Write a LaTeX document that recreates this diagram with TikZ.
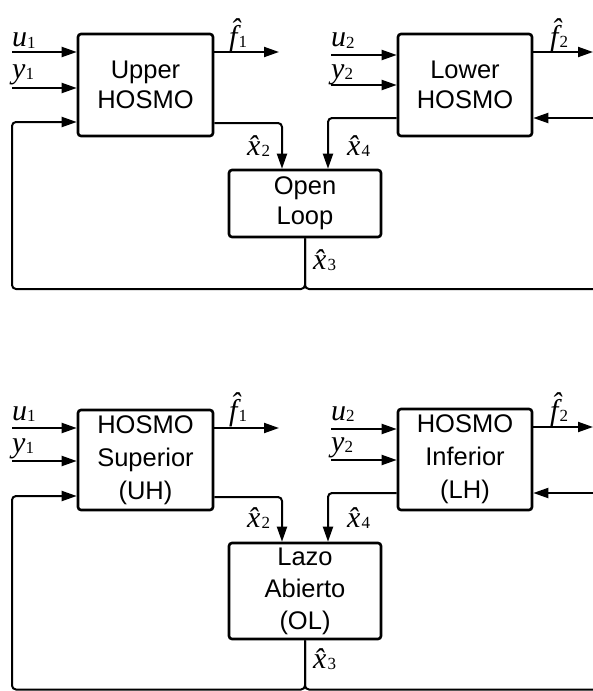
\documentclass[tikz,border=0pt]{standalone}
\usepackage{fontspec}
\newfontfamily\arial{Liberation Sans}
\newfontfamily\tnr{Liberation Serif}
\usetikzlibrary{arrows.meta}
\newcommand{\lbsub}[1]{{\fontsize{17}{17}\selectfont\raisebox{-1.5pt}{#1}}}
\newcommand{\lb}[2]{{\itshape #1}\lbsub{#2}}
\newcommand{\lbh}[2]{{\itshape\^{#1}}\kern1pt\lbsub{#2}}
\tikzset{
  blk/.style={draw, line width=2.6pt, rounded corners=3pt, inner sep=0pt, align=center,
    font=\arial\fontsize{25.5}{30}\selectfont},
  con/.style={line width=2pt, rounded corners=4pt},
  arr/.style={con, -{Triangle[length=15pt,width=10pt]}},
  lab/.style={anchor=base west, inner sep=0pt, font=\tnr\fontsize{30}{32}\selectfont}
}
\begin{document}
\begin{tikzpicture}[x=1pt,y=-1pt]
\useasboundingbox (0,0) rectangle (593,691);
% ---------- top diagram ----------
\node[blk, minimum width=135pt, minimum height=102pt] (UH) at (145.5,85) {Upper\\HOSMO};
\node[blk, minimum width=134pt, minimum height=102pt] (LH) at (465,85) {Lower\\HOSMO};
\node[blk, minimum width=152pt, minimum height=67pt] (OL) at (305,203.5) {Open\\Loop};
\coordinate (u1) at (12,52);
\coordinate (y1) at (12,88);
\coordinate (fb) at (12,122);
\coordinate (f1) at (279,52);
\coordinate (u2) at (331,55);
\coordinate (y2) at (331,85);
\coordinate (f2) at (593,52);
\coordinate (rin) at (593,118);
\coordinate (x2c) at (282,123);
\coordinate (x4c) at (328,118);
\coordinate (bl) at (12,289);
\coordinate (br) at (593,289);
\draw[arr] (u1) -- (u1 -| UH.west);
\draw[arr] (y1) -- (y1 -| UH.west);
\draw[arr] (u2) -- (u2 -| LH.west);
\draw[arr] (y2) -- (y2 -| LH.west);
\draw[arr] (f1 -| UH.east) -- (f1);
\draw[arr] (f2 -| LH.east) -- (f2);
\draw[arr] (rin) -- (rin -| LH.east);
\draw[arr] (x2c -| UH.east) -- (x2c) -- (x2c |- OL.north);
\draw[arr] (x4c -| LH.west) -- (x4c) -- (x4c |- OL.north);
\draw[arr] (OL.south) |- (bl) -- (fb) -- (fb -| UH.west);
\draw[con] (OL.south) |- (br);
\node[lab] (lu1) at (12,46.5) {\lb{u}{1}};
\node[lab] (ly1) at (12,78) {\lb{y}{1}};
\node[lab] (lf1) at (229,46) {\lbh{f}{1}};
\node[lab] (lu2) at (331,46.5) {\lb{u}{2}};
\node[lab] (ly2) at (331,78) {\lb{y}{2}};
\node[lab] (lf2) at (550,46) {\lbh{f}{2}};
\node[lab] (lx2) at (247,155) {\lbh{x}{2}};
\node[lab] (lx4) at (347,155) {\lbh{x}{4}};
\node[lab] (lx3) at (313,269) {\lbh{x}{3}};
% ---------- bottom diagram ----------
\node[blk, minimum width=135pt, minimum height=100pt, font=\arial\fontsize{25.5}{33}\selectfont] (UHb) at (145.5,460) {HOSMO\\Superior\\(UH)};
\node[blk, minimum width=134pt, minimum height=101pt, font=\arial\fontsize{25.5}{33}\selectfont] (LHb) at (465,459.5) {HOSMO\\Inferior\\(LH)};
\node[blk, minimum width=152pt, minimum height=96pt, font=\arial\fontsize{25.5}{32}\selectfont] (OLb) at (305,591) {Lazo\\Abierto\\(OL)};
\coordinate (u1b) at (12,428);
\coordinate (y1b) at (12,461);
\coordinate (fbb) at (12,496);
\coordinate (f1b) at (279,428);
\coordinate (u2b) at (331,429);
\coordinate (y2b) at (331,460);
\coordinate (f2b) at (593,427);
\coordinate (rinb) at (593,493);
\coordinate (x2cb) at (282,497);
\coordinate (x4cb) at (328,493);
\coordinate (blb) at (12,689.5);
\coordinate (brb) at (593,689.5);
\draw[arr] (u1b) -- (u1b -| UHb.west);
\draw[arr] (y1b) -- (y1b -| UHb.west);
\draw[arr] (u2b) -- (u2b -| LHb.west);
\draw[arr] (y2b) -- (y2b -| LHb.west);
\draw[arr] (f1b -| UHb.east) -- (f1b);
\draw[arr] (f2b -| LHb.east) -- (f2b);
\draw[arr] (rinb) -- (rinb -| LHb.east);
\draw[arr] (x2cb -| UHb.east) -- (x2cb) -- (x2cb |- OLb.north);
\draw[arr] (x4cb -| LHb.west) -- (x4cb) -- (x4cb |- OLb.north);
\draw[arr] (OLb.south) |- (blb) -- (fbb) -- (fbb -| UHb.west);
\draw[con] (OLb.south) |- (brb);
\node[lab] (lu1b) at (12,420) {\lb{u}{1}};
\node[lab] (ly1b) at (12,452) {\lb{y}{1}};
\node[lab] (lf1b) at (229,420) {\lbh{f}{1}};
\node[lab] (lu2b) at (331,420) {\lb{u}{2}};
\node[lab] (ly2b) at (331,451) {\lb{y}{2}};
\node[lab] (lf2b) at (550,420) {\lbh{f}{2}};
\node[lab] (lx2b) at (247,527) {\lbh{x}{2}};
\node[lab] (lx4b) at (347,527) {\lbh{x}{4}};
\node[lab] (lx3b) at (313,668) {\lbh{x}{3}};
\end{tikzpicture}
\end{document}
